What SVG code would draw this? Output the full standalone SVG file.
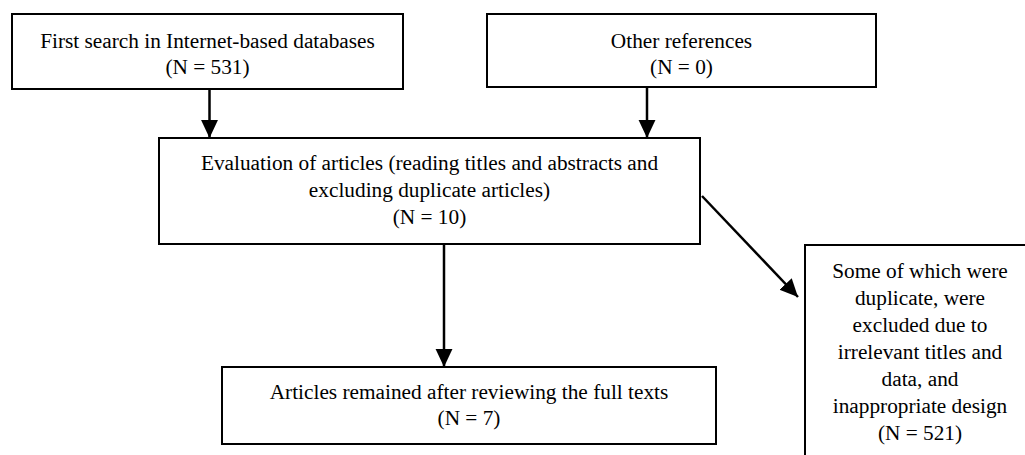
<svg xmlns="http://www.w3.org/2000/svg" width="1025" height="455" viewBox="0 0 1025 455">
<style>
.box{fill:#fff;stroke:#000;stroke-width:2}
.t{font-family:"Liberation Serif","Times New Roman",serif;font-size:21.3px;fill:#000;text-anchor:middle}
.c{stroke:#000;stroke-width:2.5;fill:none}
</style>
<defs>
<marker id="ah" markerUnits="userSpaceOnUse" markerWidth="18" markerHeight="18" viewBox="0 0 16 16" refX="16" refY="8" orient="auto">
<path d="M0,0.5 L16,8 L0,15.5 Z" fill="#000"/>
</marker>
</defs>
<rect width="1025" height="455" fill="#fff"/>
<g id="connectors">
<line class="c" x1="209.5" y1="89" x2="209.5" y2="138" marker-end="url(#ah)"/>
<line class="c" x1="647" y1="87" x2="647" y2="138" marker-end="url(#ah)"/>
<line class="c" x1="444" y1="244" x2="444" y2="367" marker-end="url(#ah)"/>
<line class="c" x1="702" y1="196" x2="798" y2="297" marker-end="url(#ah)"/>
</g>
<g id="n1">
<rect class="box" x="12" y="14" width="391" height="75"/>
<text class="t" x="207.5" y="48">First search in Internet-based databases</text>
<text class="t" x="207.5" y="74">(N = 531)</text>
</g>
<g id="n2">
<rect class="box" x="487" y="14" width="389" height="73"/>
<text class="t" x="681.5" y="48">Other references</text>
<text class="t" x="681.5" y="74">(N = 0)</text>
</g>
<g id="n3">
<rect class="box" x="159" y="138" width="541" height="106"/>
<text class="t" x="429.5" y="170">Evaluation of articles (reading titles and abstracts and</text>
<text class="t" x="429.5" y="197">excluding duplicate articles)</text>
<text class="t" x="429.5" y="224">(N = 10)</text>
</g>
<g id="n4">
<rect class="box" x="222" y="367" width="494" height="77"/>
<text class="t" x="469" y="399">Articles remained after reviewing the full texts</text>
<text class="t" x="469" y="425">(N = 7)</text>
</g>
<g id="n5">
<rect class="box" x="805" y="245" width="230" height="220"/>
<text class="t" x="920" y="278">Some of which were</text>
<text class="t" x="920" y="305">duplicate, were</text>
<text class="t" x="920" y="332">excluded due to</text>
<text class="t" x="920" y="359">irrelevant titles and</text>
<text class="t" x="920" y="386">data, and</text>
<text class="t" x="920" y="413">inappropriate design</text>
<text class="t" x="920" y="440">(N = 521)</text>
</g>
</svg>
